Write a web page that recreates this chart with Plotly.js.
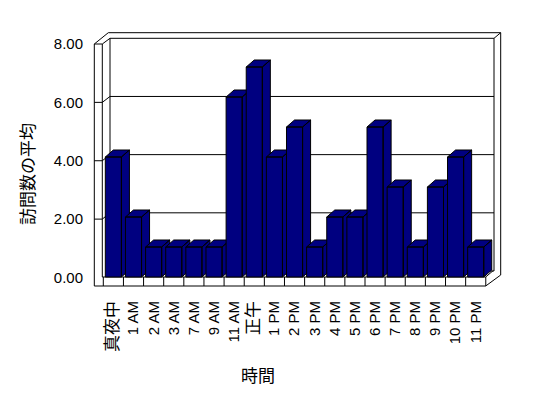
<!DOCTYPE html>
<html>
<head>
<meta charset="utf-8">
<script src="https://cdn.plot.ly/plotly-3.0.1.min.js"></script>
<style>html,body{margin:0;padding:0;background:#fff;}#chart{width:548px;height:398px;}</style>
</head>
<body>
<div id="chart"></div>
<script>
// ---- data ----
const categories = ['真夜中','1 AM','2 AM','3 AM','7 AM','9 AM','11 AM','正午','1 PM','2 PM','3 PM','4 PM','5 PM','6 PM','7 PM','8 PM','9 PM','10 PM','11 PM'];
const visits = [4,2,1,1,1,1,6,7,4,5,1,2,2,5,3,1,3,4,1];
const yTickVals = [0,2,4,6,8];
const yTickLabels = ['0.00','2.00','4.00','6.00','8.00'];
const xTitle = '時間';
const yTitle = '訪問数の平均';

// ---- geometry (pixels) ----
const W = 548, H = 398;
const PL = 90, PR = 505, PT = 28, PB = 290;
const X0 = 113.37, SX = 20.13;   // px of category 0 centre, px per category
const Y0 = 277, SY = 30;         // px of value 0 (bar fronts), px per unit
const Y20 = 277.5, SY2 = 29.19;  // front axis scale for tick labels
const X = px => (px - X0) / SX;
const Y = py => (Y0 - py) / SY;
const BW = 0.4;                  // half bar width (category units)
const DX = 8 / SX, DY = 7 / SY;  // 3D depth offset

const NAVY = '#000080';
const FONT = 'Liberation Sans, Arial, Noto Sans CJK JP, sans-serif';

// ---- bars (front, side, top faces) ----
const traces = [];
visits.forEach((v, i) => {
  const x0 = i - BW, x1 = i + BW;
  const xs = [x0, x1, x1, x0, x0, null,
              x1, x1 + DX, x1 + DX, x1, x1, null,
              x0, x1, x1 + DX, x0 + DX, x0];
  const ys = [0, 0, v, v, 0, null,
              0, DY, v + DY, v, 0, null,
              v, v, v + DY, v + DY, v];
  traces.push({
    type: 'scatter', mode: 'lines', x: xs, y: ys,
    fill: 'toself', fillcolor: NAVY,
    line: {color: '#000', width: 1},
    name: categories[i], showlegend: false, hoverinfo: 'skip'
  });
});
// invisible trace to anchor the label axis
traces.push({type: 'scatter', mode: 'markers', x: [0], y: [0], yaxis: 'y2',
  marker: {opacity: 0}, showlegend: false, hoverinfo: 'skip'});

// ---- frame (walls, floor, gridlines) ----
const segs = [
  [94.3,44,94.3,286],[102.3,44,102.3,277],[94.3,44,102.3,44],
  [94.3,44,108.3,32.7],[102.3,44,110,38.3],
  [108.3,32.7,500.7,32.7],[110,38.3,494,38.3],[494,38.3,500.7,32.7],
  [500.7,32.7,500.7,275],[494,38.3,494,271],[110,38.3,110,271],[110,271,494,271],
  [102.3,277,485.7,277],[94.3,286,485.7,286],
  [485.7,286,500.7,275],[485.7,277,493.3,270.5]
];
[2,4,6].forEach(v => {
  const by = 271 - 29.09 * v, fy = Y20 - SY2 * v;
  segs.push([110,by,494,by],[102.3,fy,110,by],[94.3,fy,102.3,fy]);
});
for (let k = 0; k <= categories.length; k++) {
  const px = X0 + SX * (k - 0.5);
  segs.push([px,277,px,286]);
}
const shapes = segs.map(s => ({
  type: 'line', xref: 'x', yref: 'y', layer: 'below',
  x0: X(s[0]), y0: Y(s[1]), x1: X(s[2]), y1: Y(s[3]),
  line: {color: '#000', width: 1}
}));

const isCJK = s => /[^\x00-\x7F]/.test(s);
const tickText = categories.map(c => isCJK(c) ? '<span style="font-size:17px">' + c + '</span>' : c);

const layout = {
  width: W, height: H,
  margin: {l: PL, r: W - PR, t: PT, b: H - PB, pad: 0},
  paper_bgcolor: '#fff', plot_bgcolor: '#fff',
  font: {family: FONT, color: '#000', size: 15},
  showlegend: false,
  xaxis: {
    range: [X(PL), X(PR)], fixedrange: true,
    tickmode: 'array', tickvals: categories.map((c, i) => i), ticktext: tickText,
    tickangle: -90, ticks: '', ticklabelstandoff: 7,
    showgrid: false, zeroline: false, showline: false,
    tickfont: {family: FONT, size: 15, color: '#000'}
  },
  yaxis: {
    range: [Y(PB), Y(PT)], fixedrange: true,
    showticklabels: false, ticks: '', showgrid: false, zeroline: false, showline: false
  },
  yaxis2: {
    overlaying: 'y', side: 'left', anchor: 'x',
    range: [(Y20 - PB) / SY2, (Y20 - PT) / SY2], fixedrange: true,
    tickmode: 'array', tickvals: yTickVals, ticktext: yTickLabels,
    ticks: '', ticklabelstandoff: 6,
    showgrid: false, zeroline: false, showline: false,
    tickfont: {family: FONT, size: 15, color: '#000'}
  },
  shapes: shapes,
  annotations: [
    {text: xTitle, xref: 'paper', yref: 'paper',
     x: (258.3 - PL) / (PR - PL), y: (PB - 376) / (PB - PT),
     xanchor: 'center', yanchor: 'middle', showarrow: false,
     font: {family: FONT, size: 17, color: '#000'}},
    {text: yTitle, xref: 'paper', yref: 'paper', textangle: -90,
     x: (29 - PL) / (PR - PL), y: (PB - 174) / (PB - PT),
     xanchor: 'center', yanchor: 'middle', showarrow: false,
     font: {family: FONT, size: 17, color: '#000'}}
  ]
};

Plotly.newPlot('chart', traces, layout, {staticPlot: true, displayModeBar: false});
</script>
</body>
</html>
